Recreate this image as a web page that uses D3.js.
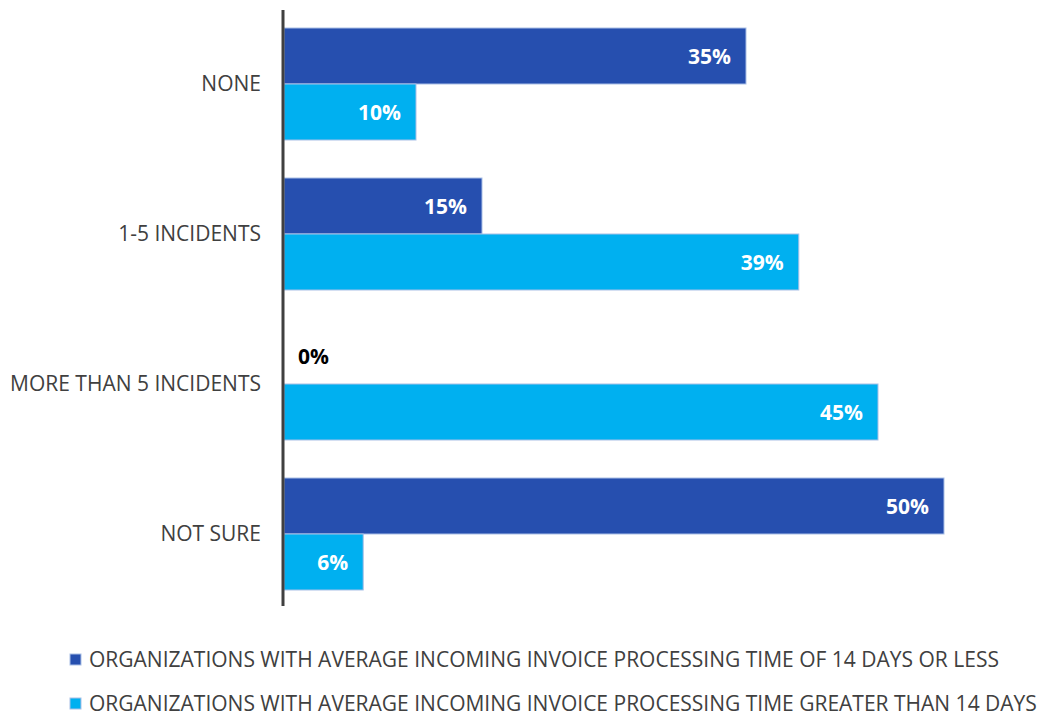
<!DOCTYPE html>
<html>
<head>
<meta charset="utf-8">
<script src="https://cdn.jsdelivr.net/npm/d3@7"></script>
<style>
  body { margin: 0; background: #fff; }
  svg text { font-family: "Open Sans", "Noto Sans", sans-serif; }
</style>
</head>
<body>
<div id="chart"></div>
<script>
// data
var categories = ["NONE", "1-5 INCIDENTS", "MORE THAN 5 INCIDENTS", "NOT SURE"];
var seriesNames = [
  "ORGANIZATIONS WITH AVERAGE INCOMING INVOICE PROCESSING TIME OF 14 DAYS OR LESS",
  "ORGANIZATIONS WITH AVERAGE INCOMING INVOICE PROCESSING TIME GREATER THAN 14 DAYS"
];
var shortTime = [35, 15, 0, 50];
var longTime = [10, 39, 45, 6];
var colors = ["#264faf", "#00b0f0"];

var svgWidth = 1043, svgHeight = 717;

var svg = d3.select("#chart").append("svg")
  .attr("width", svgWidth)
  .attr("height", svgHeight);

var xScale = d3.scaleLinear().domain([0, 50]).range([284, 944]);

// one band per category, each holding two bars
var yScale = d3.scaleBand()
  .domain(categories)
  .range([9, 609])
  .paddingInner(38 / 150)
  .paddingOuter(19 / 150);

var inner = d3.scaleBand()
  .domain([0, 1])
  .range([0, yScale.bandwidth()]);

var rows = [];
categories.forEach(function(c, i) {
  rows.push({ cat: c, s: 0, v: shortTime[i] });
  rows.push({ cat: c, s: 1, v: longTime[i] });
});

var bars = svg.append("g");
bars.selectAll("rect")
  .data(rows.filter(d => d.v > 0))
  .enter()
  .append("rect")
  .attr("x", xScale(0))
  .attr("y", d => yScale(d.cat) + inner(d.s))
  .attr("width", d => xScale(d.v) - xScale(0))
  .attr("height", inner.bandwidth())
  .attr("fill", d => colors[d.s])
  .attr("stroke", "#a9bfe6")
  .attr("stroke-width", 1);

// value labels
svg.append("g").selectAll("text")
  .data(rows)
  .enter()
  .append("text")
  .attr("x", d => d.v > 0 ? xScale(d.v) - 15 : xScale(0) + 14)
  .attr("y", d => yScale(d.cat) + inner(d.s) + inner.bandwidth() / 2)
  .attr("dy", "0.36em")
  .attr("text-anchor", d => d.v > 0 ? "end" : "start")
  .attr("fill", d => d.v > 0 ? "#ffffff" : "#000000")
  .style("font-weight", "bold")
  .style("font-size", "21px")
  .text(d => d.v + "%");

// category axis
var leftAxis = d3.axisLeft(yScale).tickSize(0).tickPadding(22);
var yAxis = svg.append("g")
  .attr("transform", `translate(${xScale(0) - 1}, 0)`)
  .call(leftAxis);
yAxis.select(".domain").remove();
yAxis.selectAll("text")
  .style("font-size", "21px")
  .attr("fill", "#404040");

svg.append("line")
  .attr("x1", xScale(0) - 1).attr("x2", xScale(0) - 1)
  .attr("y1", 10).attr("y2", 606)
  .attr("stroke", "#404040")
  .attr("stroke-width", 3);

// legend
var legend = svg.append("g").selectAll("g")
  .data(seriesNames)
  .enter()
  .append("g")
  .attr("transform", (d, i) => `translate(70, ${659 + i * 44})`);

legend.append("rect")
  .attr("x", 0).attr("y", -5)
  .attr("width", 11).attr("height", 11)
  .attr("fill", (d, i) => colors[i])
  .attr("stroke", "#a9bfe6");

legend.append("text")
  .attr("x", 19)
  .attr("y", 0)
  .attr("dy", "0.36em")
  .style("font-size", "21px")
  .attr("fill", "#404040")
  .text(d => d);
</script>
</body>
</html>
